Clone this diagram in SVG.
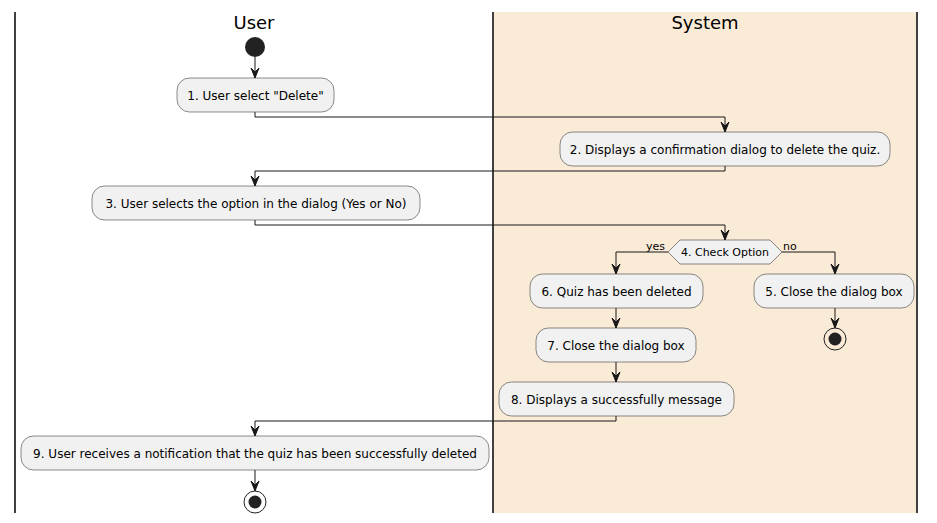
<svg xmlns="http://www.w3.org/2000/svg" width="937" height="523" viewBox="0 0 937 523">
<defs>
<style>
.lane{stroke:#000;stroke-width:1.5}
.box rect{fill:#F1F1F1;stroke:#181818;stroke-width:0.5}
.box text,.lbl{font-family:"DejaVu Sans",sans-serif;font-size:12px;fill:#000;text-anchor:middle}
.title{font-family:"DejaVu Sans",sans-serif;font-size:18px;fill:#000;text-anchor:middle}
.conn path{fill:none;stroke:#181818;stroke-width:1}
.small{font-family:"DejaVu Sans",sans-serif;font-size:11px;fill:#000}
</style>
<marker id="ah" markerWidth="14" markerHeight="12" viewBox="-12 -6 14 12" refX="0" refY="0" orient="auto" markerUnits="userSpaceOnUse">
<polygon points="-10,-4 0,0 -10,4 -6,0" fill="#181818" stroke="#181818" stroke-width="1" stroke-linejoin="miter"/>
</marker>
</defs>
<rect width="937" height="523" fill="#fff"/>
<rect x="494" y="12" width="422" height="501" fill="#FAEBD7"/>
<line class="lane" x1="15" y1="12" x2="15" y2="513"/>
<line class="lane" x1="493" y1="12" x2="493" y2="513"/>
<line class="lane" x1="917" y1="12" x2="917" y2="513"/>
<text class="title" x="254" y="29">User</text>
<text class="title" x="705" y="29">System</text>

<g id="start"><circle cx="255" cy="47" r="10" fill="#222"/></g>
<g id="n1" class="box"><rect x="177" y="78" width="157" height="34" rx="12.5"/><text x="255.5" y="99.5">1. User select "Delete"</text></g>
<g id="n2" class="box"><rect x="560" y="132" width="330" height="34" rx="12.5"/><text x="725" y="153.5">2. Displays a confirmation dialog to delete the quiz.</text></g>
<g id="n3" class="box"><rect x="92" y="186" width="328" height="34" rx="12.5"/><text x="256" y="207.5">3. User selects the option in the dialog (Yes or No)</text></g>
<g id="n4"><polygon points="668,252 680,240 770,240 782,252 770,264 680,264" fill="#F1F1F1" stroke="#181818" stroke-width="0.5"/><text class="small" x="725" y="256" text-anchor="middle">4. Check Option</text></g>
<g id="n6" class="box"><rect x="530" y="274" width="173" height="34" rx="12.5"/><text x="616.5" y="295.5">6. Quiz has been deleted</text></g>
<g id="n5" class="box"><rect x="754" y="274" width="160" height="34" rx="12.5"/><text x="834" y="295.5">5. Close the dialog box</text></g>
<g id="end1"><circle cx="835" cy="339" r="11" fill="none" stroke="#222" stroke-width="1"/><circle cx="835" cy="339" r="6.5" fill="#222"/></g>
<g id="n7" class="box"><rect x="536" y="328" width="160" height="34" rx="12.5"/><text x="616" y="349.5">7. Close the dialog box</text></g>
<g id="n8" class="box"><rect x="499" y="382" width="235" height="34" rx="12.5"/><text x="616.5" y="403.5">8. Displays a successfully message</text></g>
<g id="n9" class="box"><rect x="21" y="436" width="468" height="34" rx="12.5"/><text x="255" y="457.5">9. User receives a notification that the quiz has been successfully deleted</text></g>
<g id="end2"><circle cx="255" cy="502" r="11" fill="none" stroke="#222" stroke-width="1"/><circle cx="255" cy="502" r="6.5" fill="#222"/></g>

<g id="connectors" class="conn">
<path d="M255,57 V78" marker-end="url(#ah)"/>
<path d="M255,112 V117 H725 V132" marker-end="url(#ah)"/>
<path d="M725,166 V171 H255 V186" marker-end="url(#ah)"/>
<path d="M255,220 V225 H725 V240" marker-end="url(#ah)"/>
<path d="M668,252 H616 V274" marker-end="url(#ah)"/>
<path d="M782,252 H835 V274" marker-end="url(#ah)"/>
<path d="M835,308 V328" marker-end="url(#ah)"/>
<path d="M616,308 V328" marker-end="url(#ah)"/>
<path d="M616,362 V382" marker-end="url(#ah)"/>
<path d="M616,416 V421 H255 V436" marker-end="url(#ah)"/>
<path d="M255,470 V491" marker-end="url(#ah)"/>
<text class="small" x="646" y="250">yes</text>
<text class="small" x="783" y="250">no</text>
</g>
</svg>
